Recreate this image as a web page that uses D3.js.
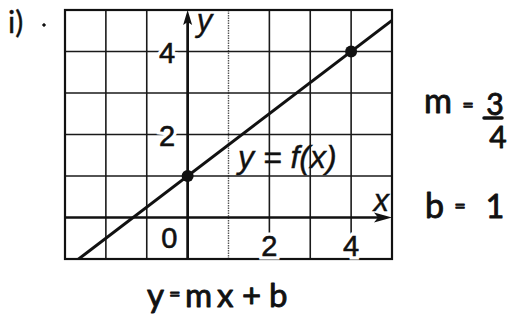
<!DOCTYPE html>
<html>
<head>
<meta charset="utf-8">
<script src="https://cdn.jsdelivr.net/npm/d3@7/dist/d3.min.js"></script>
<style>
  html, body { margin: 0; padding: 0; background: #fff; }
  svg { display: block; }
</style>
</head>
<body>
<script>
// Coordinate-plane data
const xGrid = [-3, -2, -1, 0, 1, 2, 3, 4, 5];
const yGrid = [-1, 0, 1, 2, 3, 4, 5];
const xTickLabels = [0, 2, 4];
const yTickLabels = [2, 4];
const pointX = [0, 4];
const pointY = [1, 4];
const slope = [3, 4];      // m = 3/4
const intercept = [1];     // b = 1

const W = 518, H = 330;
const svg = d3.select("body").append("svg").attr("width", W).attr("height", H);

const x = d3.scaleLinear().domain([-3, 5]).range([65, 392]);
const y = d3.scaleLinear().domain([-1, 5]).range([259, 10]);

const ink = "#111";

svg.append("defs").append("clipPath").attr("id", "plot")
  .append("rect").attr("x", x(-3)).attr("y", y(5))
  .attr("width", x(5) - x(-3)).attr("height", y(-1) - y(5));

// grid
const grid = svg.append("g");
grid.selectAll("line.v").data(xGrid.filter(d => d !== 0 && d !== -3 && d !== 5)).join("line")
  .attr("class", "v")
  .attr("x1", d => x(d)).attr("x2", d => x(d))
  .attr("y1", y(5)).attr("y2", y(-1))
  .attr("stroke", d => d === 1 ? "#555" : "#1a1a1a")
  .attr("stroke-width", d => d === 1 ? 1.4 : 1.6)
  .attr("stroke-dasharray", d => d === 1 ? "1.5,1" : null);
grid.selectAll("line.h").data(yGrid.filter(d => d !== 0 && d !== -1 && d !== 5)).join("line")
  .attr("class", "h")
  .attr("x1", x(-3)).attr("x2", x(5))
  .attr("y1", d => y(d)).attr("y2", d => y(d))
  .attr("stroke", "#1a1a1a")
  .attr("stroke-width", 1.6);

// border
svg.append("rect")
  .attr("x", x(-3)).attr("y", y(5))
  .attr("width", x(5) - x(-3)).attr("height", y(-1) - y(5))
  .attr("fill", "none").attr("stroke", ink).attr("stroke-width", 2.2);

// tick labels with white knockout
const tickFont = "'Liberation Sans', Arial, sans-serif";
function tickText(sel) {
  sel.selectAll("text.yl").data(yTickLabels).join("text")
    .attr("class", "yl")
    .attr("x", x(-0.5)).attr("y", d => y(d) + 1)
    .text(d => d);
  sel.selectAll("text.xl").data(xTickLabels).join("text")
    .attr("class", "xl")
    .attr("x", d => d === 0 ? x(-0.45) : x(d))
    .attr("y", d => d === 0 ? y(-0.5) : y(-0.68))
    .text(d => d);
}
const halo = svg.append("g")
  .attr("font-family", tickFont).attr("font-size", 29).attr("fill", "#fff")
  .attr("stroke", "#fff").attr("stroke-width", 7)
  .attr("text-anchor", "middle").attr("dominant-baseline", "central");
tickText(halo);

// axes
const axisW = 2.7;
svg.append("line")
  .attr("x1", x(0)).attr("x2", x(0)).attr("y1", y(-1)).attr("y2", y(5) + 10)
  .attr("stroke", ink).attr("stroke-width", axisW);
svg.append("line")
  .attr("x1", x(-3)).attr("x2", x(5) - 14).attr("y1", y(0)).attr("y2", y(0))
  .attr("stroke", ink).attr("stroke-width", axisW);
// arrowheads
svg.append("path")
  .attr("d", d3.line()([[x(0), y(5)], [x(0) - 4.5, y(5) + 15], [x(0), y(5) + 12], [x(0) + 4.5, y(5) + 15]]) + "Z")
  .attr("fill", ink);
svg.append("path")
  .attr("d", d3.line()([[x(5), y(0)], [x(5) - 18, y(0) - 5], [x(5) - 14, y(0)], [x(5) - 18, y(0) + 5]]) + "Z")
  .attr("fill", ink);

const labels = svg.append("g")
  .attr("font-family", tickFont).attr("font-size", 29).attr("fill", ink)
  .attr("stroke", ink).attr("stroke-width", 0.6)
  .attr("text-anchor", "middle").attr("dominant-baseline", "central");
tickText(labels);

// axis names
const ital = svg.append("g").attr("font-family", tickFont).attr("font-style", "italic")
  .attr("fill", ink).attr("stroke", ink).attr("stroke-width", 0.4);
ital.append("text").attr("x", x(0) + 9).attr("y", 31).attr("font-size", 31).text("y");
ital.append("text").attr("x", x(5) - 3).attr("y", y(0) - 7).attr("text-anchor", "end").attr("font-size", 31).text("x");

// line y = mx + b
const m = slope[0] / slope[1], b = intercept[0];
const ends = x.domain();
svg.append("path")
  .attr("clip-path", "url(#plot)")
  .attr("d", d3.line().x(d => x(d)).y(d => y(m * d + b))(ends))
  .attr("fill", "none").attr("stroke", ink).attr("stroke-width", 3);

// points
svg.selectAll("circle.pt").data(pointX).join("circle")
  .attr("class", "pt")
  .attr("cx", d => x(d)).attr("cy", (d, i) => y(pointY[i]))
  .attr("r", 6).attr("fill", ink);

// function label
ital.append("text").attr("x", 238).attr("y", 168).attr("font-size", 32).text("y = f(x)");

// hand-written notes
const hand = svg.append("g").attr("font-family", "Lato, 'Open Sans', sans-serif")
  .attr("font-weight", 400).attr("fill", ink).attr("stroke", ink).attr("stroke-width", 0.9)
  .attr("stroke-linejoin", "round");
hand.append("text").attr("x", 8).attr("y", 33).attr("font-size", 30).attr("stroke-width", 0.4).text("i)");
hand.append("circle").attr("cx", 44).attr("cy", 25).attr("r", 1.3).attr("fill", ink);

hand.append("text").attr("x", 424).attr("y", 113).attr("font-size", 34).text("m");
hand.append("text").attr("x", 468).attr("y", 112).attr("font-size", 20).attr("text-anchor", "middle").text("=");
hand.append("text").attr("x", 495).attr("y", 115).attr("font-size", 30).attr("text-anchor", "middle").text(slope[0]);
hand.append("line").attr("x1", 484).attr("x2", 502).attr("y1", 118).attr("y2", 118)
  .attr("stroke", ink).attr("stroke-width", 3.5).attr("stroke-linecap", "round");
hand.append("text").attr("x", 498).attr("y", 148).attr("font-size", 30).attr("text-anchor", "middle").text(slope[1]);

hand.append("text").attr("x", 425).attr("y", 218).attr("font-size", 34).text("b");
hand.append("text").attr("x", 460).attr("y", 213).attr("font-size", 20).attr("text-anchor", "middle").text("=");
hand.append("text").attr("x", 495).attr("y", 218).attr("font-size", 32).attr("text-anchor", "middle").text(intercept[0]);

// y = mx + b, written beneath the grid
const eq = [["y", 147], ["=", 169], ["m", 185], ["x", 217], ["+", 242], ["b", 269]];
hand.selectAll("text.eq").data(eq).join("text")
  .attr("class", "eq")
  .attr("x", d => d[1]).attr("y", 307)
  .attr("font-size", d => d[0] === "=" ? 20 : 33)
  .attr("dy", d => d[0] === "=" ? -6 : 0)
  .text(d => d[0]);
</script>
</body>
</html>
